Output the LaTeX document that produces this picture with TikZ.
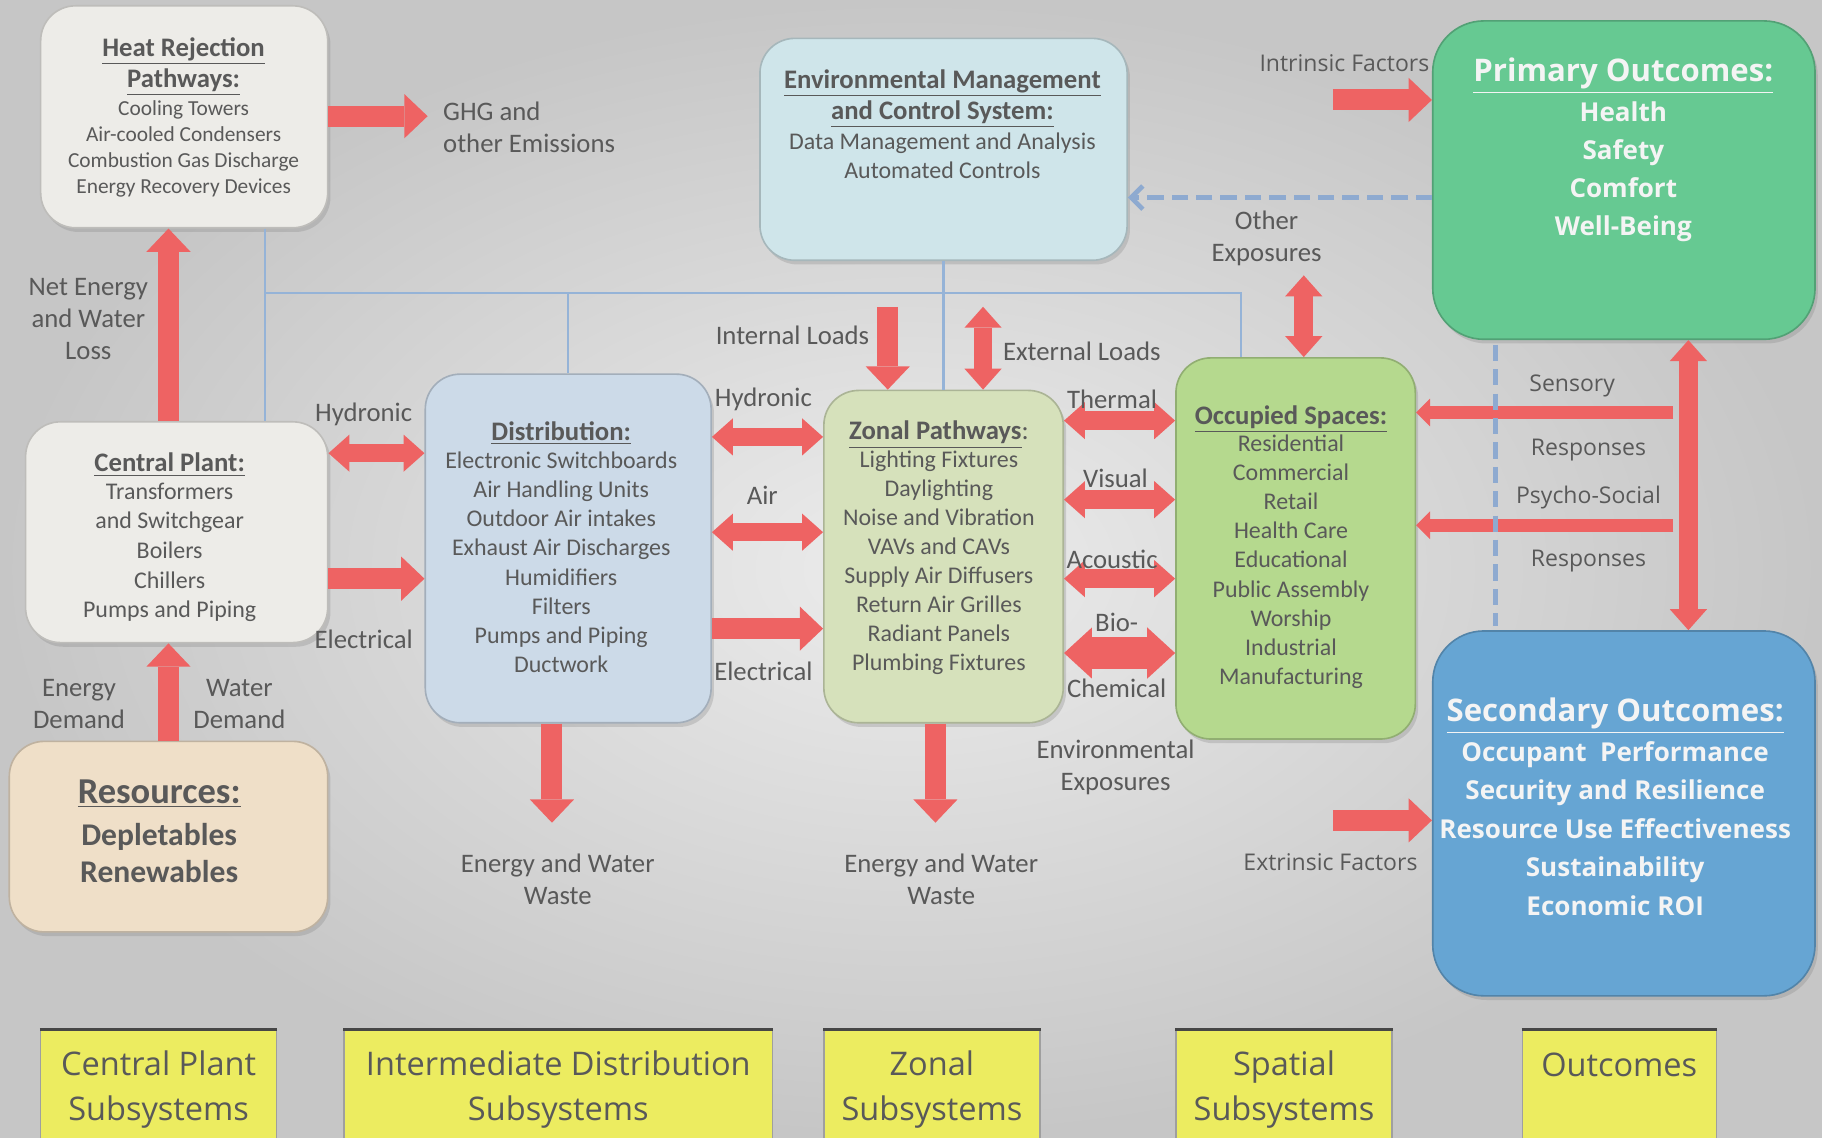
\documentclass[tikz,border=0pt]{standalone}
\usepackage{fontspec}
\setmainfont{Carlito}
\newfontfamily\osans{Open Sans}
\usetikzlibrary{arrows.meta,shadows}
\definecolor{txt}{HTML}{595959}
\definecolor{rarr}{HTML}{EE6363}
\definecolor{bl}{HTML}{95B3D7}
\definecolor{bld}{HTML}{8EAAD0}
\definecolor{fhr}{HTML}{EDECE8}
\definecolor{fres}{HTML}{EFDFC8}
\definecolor{fdist}{HTML}{CCDAE8}
\definecolor{femcs}{HTML}{CFE5EA}
\definecolor{fzon}{HTML}{D6E1BB}
\definecolor{focc}{HTML}{B5D98E}
\definecolor{fprim}{HTML}{66C992}
\definecolor{fsec}{HTML}{66A5D3}
\definecolor{fyel}{HTML}{ECEC60}
\definecolor{bgin}{HTML}{ECECEC}
\definecolor{bgout}{HTML}{C6C6C6}
\definecolor{wtxt}{HTML}{F4F4F4}
\begin{document}
\begin{tikzpicture}[x=0.5pt,y=-0.5pt,
  every node/.style={inner sep=0pt, text=txt},
  box/.style={rounded corners=15pt, fill=#1, draw=#1!80!black, line width=0.7pt,
     drop shadow={opacity=0.28, shadow xshift=1.2pt, shadow yshift=-1.8pt}},
  obox/.style={box=#1, rounded corners=22pt},
  ybox/.style={fill=fyel, draw=gray!75, line width=0.6pt, anchor=north},
  ttl/.style={align=center, yshift=-2pt, font=\fontsize{11.5}{13.5}\selectfont\bfseries},
  bdy/.style={align=center, yshift=-0.7pt, font=\fontsize{10.3}{12.5}\selectfont},
  lbl/.style={align=center, yshift=-0.5pt, font=\fontsize{11.5}{13.75}\selectfont},
  olbl/.style={align=center, yshift=-1.5pt, font=\osans\fontsize{9.9}{12}\selectfont},
  ylbl/.style={align=center, yshift=-2pt, font=\osans\fontsize{14}{19.5}\selectfont},
  ottl/.style={align=center, yshift=-2.5pt, text=wtxt, font=\osans\bfseries\fontsize{13.4}{16}\selectfont},
  obdy/.style={align=center, yshift=-1.5pt, text=wtxt, font=\osans\bfseries\fontsize{11.2}{16.4}\selectfont},
  rarrow/.style={draw=rarr, line width=9pt, -{Triangle[width=19pt,length=10pt,line width=0pt]}},
  rdbl/.style={draw=rarr, line width=8pt, {Triangle[width=16pt,length=9pt,line width=0pt]}-{Triangle[width=16pt,length=9pt,line width=0pt]}},
  rbig/.style={draw=rarr, line width=13.5pt, {Triangle[width=22pt,length=12pt,line width=0pt]}-{Triangle[width=22pt,length=12pt,line width=0pt]}},
  rthin/.style={draw=rarr, line width=5.5pt, -{Triangle[width=12pt,length=6pt,line width=0pt]}},
  bline/.style={draw=bl, line width=1pt},
  dline/.style={draw=bld, line width=2pt, dash pattern=on 7pt off 3.5pt},
]
% background
\shade[inner color=bgin, outer color=bgout] (0,0) rectangle (1568,979);
\useasboundingbox (0,0) rectangle (1568,979);

\coordinate (bx1) at (228,252);
\coordinate (bx2) at (1068,252);

% boxes
\node[box=fhr, minimum width=123.5pt, minimum height=95.5pt] (hr) at (158.5,100.5) {};
\node[box=fhr, minimum width=130pt, minimum height=95pt] (cp) at (152,458) {};
\node[box=fres, minimum width=137pt, minimum height=82pt] (res) at (145,720) {};
\node[box=fdist, minimum width=123pt, minimum height=150pt] (dist) at (489,472) {};
\node[box=femcs, minimum width=158pt, minimum height=95.5pt] (emcs) at (812,128.5) {};
\node[box=fzon, minimum width=103pt, minimum height=143pt] (zon) at (812,479) {};
\node[box=focc, minimum width=103pt, minimum height=164pt] (occ) at (1115,472) {};
\node[obox=fprim, minimum width=164.5pt, minimum height=137pt] (prim) at (1397.5,155) {};
\node[obox=fsec, minimum width=164.5pt, minimum height=157pt] (sec) at (1397.5,700) {};

% blue control lines
\draw[bline] (hr.south -| bx1) -- (cp.north -| bx1);
\draw[bline] (bx1) -- (bx2) -- (occ.north -| bx2);
\draw[bline] (dist.north |- bx1) -- (dist.north);
\draw[bline] (emcs.south) -- (zon.north);

% box texts
\node[ttl] (hrT) at (158,53.5) {\underline{Heat Rejection}\\\underline{Pathways:}};
\node[bdy, yshift=-0.5pt, font=\fontsize{9.2}{11.2}\selectfont] (hrB) at (158,125.5) {Cooling Towers\\Air-cooled Condensers\\Combustion Gas Discharge\\Energy Recovery Devices};
\node[ttl] (cpT) at (146,396) {\underline{Central Plant:}};
\node[bdy, font=\fontsize{10.3}{12.75}\selectfont] (cpB) at (146,474) {Transformers\\and Switchgear\\Boilers\\Chillers\\Pumps and Piping};
\node[ttl, font=\fontsize{15.7}{18}\selectfont\bfseries] (resT) at (137,679) {\underline{Resources:}};
\node[ttl, yshift=0.5pt, font=\fontsize{13.6}{16}\selectfont\bfseries] (resB) at (137,731) {Depletables\\Renewables};
\node[ttl] (distT) at (483,369) {\underline{Distribution:}};
\node[bdy] (distB) at (483,482.5) {Electronic Switchboards\\Air Handling Units\\Outdoor Air intakes\\Exhaust Air Discharges\\Humidifiers\\Filters\\Pumps and Piping\\Ductwork};
\node[ttl] (emcsT) at (811,81) {\underline{Environmental Management}\\\underline{and Control System:}};
\node[bdy] (emcsB) at (811,133) {Data Management and Analysis\\Automated Controls};
\node[ttl] (zonT) at (808,370) {\underline{Zonal Pathways}{\mdseries:}};
\node[bdy] (zonB) at (808,483) {Lighting Fixtures\\Daylighting\\Noise and Vibration\\VAVs and CAVs\\Supply Air Diffusers\\Return Air Grilles\\Radiant Panels\\Plumbing Fixtures};
\node[ttl] (occT) at (1111,357) {\underline{Occupied Spaces:}};
\node[bdy] (occB) at (1111,482) {Residential\\Commercial\\Retail\\Health Care\\Educational\\Public Assembly\\Worship\\Industrial\\Manufacturing};
\node[ottl] (primT) at (1397,60) {\underline{Primary Outcomes:}};
\node[obdy] (primB) at (1397,145) {Health\\Safety\\Comfort\\Well-Being};
\node[ottl] (secT) at (1390,611) {\underline{Secondary Outcomes:}};
\node[obdy, yshift=1.5pt, font=\osans\bfseries\fontsize{11.2}{16.5}\selectfont] (secB) at (1390,713) {Occupant\ \ Performance\\Security and Resilience\\Resource Use Effectiveness\\Sustainability\\Economic ROI};

% bottom subsystem boxes
\node[ybox, minimum width=101.5pt, minimum height=60pt] (y1) at (136.5,886) {};
\node[ybox, minimum width=184.5pt, minimum height=60pt] (y2) at (480.5,886) {};
\node[ybox, minimum width=93pt, minimum height=60pt] (y3) at (802,886) {};
\node[ybox, minimum width=93pt, minimum height=60pt] (y4) at (1105,886) {};
\node[ybox, minimum width=83.5pt, minimum height=60pt] (y5) at (1393.5,886) {};
\foreach \n in {y1,y2,y3,y4,y5}{\draw[gray!55!black, line width=1.3pt] (\n.north west) -- (\n.north east);}
\node[ylbl] (y1t) at (136.5,933.5) {Central Plant\\Subsystems};
\node[ylbl] (y2t) at (480.5,933.5) {Intermediate Distribution\\Subsystems};
\node[ylbl] (y3t) at (802,933.5) {Zonal\\Subsystems};
\node[ylbl] (y4t) at (1105,933.5) {Spatial\\Subsystems};
\node[ylbl] (y5t) at (1393.5,912) {Outcomes};

% free ends
\coordinate (ghgin) at (368,100);
\coordinate (lx) at (145,0);
\coordinate (w1) at (475,708);
\coordinate (w2) at (805,708);
\coordinate (il) at (764,264);
\coordinate (el) at (846,264);
\coordinate (oe) at (1122,237);
\coordinate (ifc) at (1147,86);
\coordinate (efc) at (1147,706);
\coordinate (sr) at (1440,355);
\coordinate (ps) at (1440,452);
\coordinate (vx) at (1453,0);
\coordinate (dx) at (1287,0);

% red flows
\draw[rarrow] (hr.east |- ghgin) -- (ghgin);
\draw[rarrow] (cp.north -| lx) -- (hr.south -| lx);
\draw[rarrow] (res.north -| lx) -- (cp.south -| lx);
\draw[rdbl] (cp.east |- 0,390) -- (dist.west |- 0,390);
\draw[rarrow] (cp.east |- 0,498) -- (dist.west |- 0,498);
\draw[rarrow] (dist.south -| w1) -- (w1);
\draw[rdbl] (dist.east |- 0,376) -- (zon.west |- 0,376);
\draw[rdbl] (dist.east |- 0,458) -- (zon.west |- 0,458);
\draw[rarrow] (dist.east |- 0,541) -- (zon.west |- 0,541);
\draw[rarrow] (il) -- (zon.north -| il);
\draw[rdbl] (el) -- (zon.north -| el);
\draw[rarrow] (zon.south -| w2) -- (w2);
\draw[rdbl] (zon.east |- 0,362) -- (occ.west |- 0,362);
\draw[rdbl] (zon.east |- 0,430) -- (occ.west |- 0,430);
\draw[rdbl] (zon.east |- 0,498) -- (occ.west |- 0,498);
\draw[rbig] (zon.east |- 0,562) -- (occ.west |- 0,562);
\draw[rdbl] (oe) -- (occ.north -| oe);
\draw[rarrow] (ifc) -- (prim.west |- ifc);
\draw[rarrow] (efc) -- (sec.west |- efc);
\draw[rthin] (sr) -- (occ.east |- sr);
\draw[rthin] (ps) -- (occ.east |- ps);
\draw[rdbl] (prim.south -| vx) -- (sec.north -| vx);

% dashed feedback
\draw[dline, -{Straight Barb[length=5pt,width=10pt,line width=2pt]}] (prim.west |- 0,170) -- (emcs.east |- 0,170);
\draw[dline] ([yshift=-2pt]prim.south -| dx) -- ([yshift=2pt]sec.north -| dx);

% labels
\node[lbl, anchor=west, align=left] (ghg) at (381,108.5) {GHG and\\other Emissions};
\node[lbl] (nel) at (76,273.5) {Net Energy\\and Water\\Loss};
\node[lbl] (hyd1) at (313,356) {Hydronic};
\node[lbl] (ele1) at (313,549) {Electrical};
\node[lbl] (ed) at (68,604.5) {Energy\\Demand};
\node[lbl] (wd) at (206,604.5) {Water\\Demand};
\node[lbl] (ww1) at (480,755.5) {Energy and Water\\Waste};
\node[lbl] (hyd2) at (657,343) {Hydronic};
\node[lbl] (air) at (656,425) {Air};
\node[lbl] (ele2) at (657,577) {Electrical};
\node[lbl] (ild) at (682,288) {Internal Loads};
\node[lbl] (eld) at (931,301) {External Loads};
\node[lbl] (ww2) at (810,755.5) {Energy and Water\\Waste};
\node[lbl] (thm) at (957,343) {Thermal};
\node[lbl] (vis) at (960,411) {Visual};
\node[lbl] (aco) at (957,480) {Acoustic};
\node[lbl] (bio) at (961,535) {Bio-};
\node[lbl] (chem) at (961,591) {Chemical};
\node[lbl] (envx) at (960,659) {Environmental\\Exposures};
\node[lbl] (othx) at (1090,204.5) {Other\\Exposures};
\node[olbl, yshift=1.5pt] (intf) at (1157,54) {Intrinsic Factors};
\node[olbl, yshift=1.5pt] (extf) at (1145,742) {Extrinsic Factors};
\node[olbl] (sens) at (1353,329) {Sensory};
\node[olbl] (resp1) at (1367,384) {Responses};
\node[olbl] (psy) at (1367,425) {Psycho-Social};
\node[olbl] (resp2) at (1367,480) {Responses};
\end{tikzpicture}
\end{document}
